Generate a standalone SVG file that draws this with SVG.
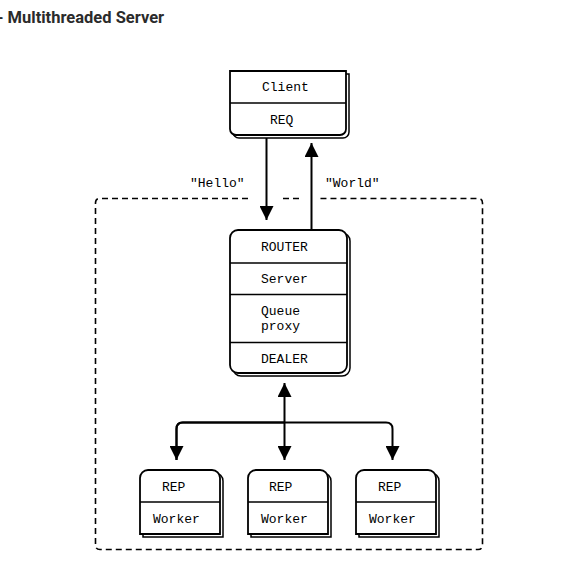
<svg xmlns="http://www.w3.org/2000/svg" width="568" height="580" viewBox="0 0 568 580">
<style>
.title{font-family:Roboto,"Liberation Sans",sans-serif;font-weight:bold;font-size:16.5px;fill:#2b2b2b}
.t{font-family:"Liberation Mono","DejaVu Sans Mono",monospace;font-size:13px;fill:#000}
.box{fill:#fff;stroke:#000;stroke-width:1.8}
.sh{fill:#fff;stroke:#000;stroke-width:1.5}
.div{stroke:#000;stroke-width:1.5;fill:none}
.con{stroke:#000;stroke-width:2;fill:none}
.dash{stroke:#000;stroke-width:1.6;fill:none;stroke-dasharray:6 4}
</style>
<defs>
<marker id="ah" markerUnits="userSpaceOnUse" markerWidth="14" markerHeight="14" refX="14" refY="7" orient="auto">
<path d="M0,0 L14,7 L0,14 Z" fill="#000"/>
</marker>
</defs>
<rect width="568" height="580" fill="#fff"/>
<text class="title" x="-3" y="23">- Multithreaded Server</text>

<g id="boundary">
<path class="dash" d="M248,198.5 H100 Q95.5,198.5 95.5,203 V545 Q95.5,549.5 100,549.5 H478 Q482.5,549.5 482.5,545 V203 Q482.5,198.5 478,198.5 H320"/>
<path class="dash" d="M283,198.5 H300"/>
</g>

<g id="connectors">
<line class="con" x1="266.5" y1="136" x2="266.5" y2="220" marker-end="url(#ah)"/>
<line class="con" x1="311.5" y1="229" x2="311.5" y2="143" marker-end="url(#ah)"/>
<line class="con" x1="284.5" y1="422.5" x2="284.5" y2="383" marker-end="url(#ah)"/>
<line class="con" x1="284.5" y1="422.5" x2="284.5" y2="460" marker-end="url(#ah)"/>
<path class="con" d="M176.5,460 V429 Q176.5,422.5 183,422.5 H386 Q392.5,422.5 392.5,429 V460" marker-end="url(#ah)"/>
<path class="con" d="M284.5,422.5 H182 Q176.5,422.5 176.5,429 V460" marker-end="url(#ah)"/>
<text class="t" x="190" y="187">"Hello"</text>
<text class="t" x="325" y="187">"World"</text>
</g>

<g id="client">
<path class="sh" d="M233,74 H349 V132 A6,6 0 0 1 343,138 H239 A6,6 0 0 1 233,132 Z"/>
<path class="box" d="M230,71 H346 V129 A6,6 0 0 1 340,135 H236 A6,6 0 0 1 230,129 Z"/>
<line class="div" x1="230" y1="103" x2="346" y2="103"/>
<text class="t" x="262" y="91">Client</text>
<text class="t" x="270" y="124">REQ</text>
</g>

<g id="server">
<rect class="sh" x="233" y="233" width="117" height="143" rx="8"/>
<rect class="box" x="230" y="230" width="117" height="143" rx="8"/>
<line class="div" x1="230" y1="263" x2="347" y2="263"/>
<line class="div" x1="230" y1="294.5" x2="347" y2="294.5"/>
<line class="div" x1="230" y1="342.5" x2="347" y2="342.5"/>
<text class="t" x="261" y="251">ROUTER</text>
<text class="t" x="261" y="283">Server</text>
<text class="t" x="261" y="315">Queue</text>
<text class="t" x="261" y="330">proxy</text>
<text class="t" x="261" y="363">DEALER</text>
</g>

<g id="worker1">
<path class="sh" d="M143,537 V481 A8,8 0 0 1 151,473 H215 A8,8 0 0 1 223,481 V537 Z"/>
<path class="box" d="M140,534 V478 A8,8 0 0 1 148,470 H212 A8,8 0 0 1 220,478 V534 Z"/>
<line class="div" x1="140" y1="502" x2="220" y2="502"/>
<text class="t" x="162" y="491">REP</text>
<text class="t" x="153" y="523">Worker</text>
</g>

<g id="worker2">
<path class="sh" d="M251,537 V481 A8,8 0 0 1 259,473 H323 A8,8 0 0 1 331,481 V537 Z"/>
<path class="box" d="M248,534 V478 A8,8 0 0 1 256,470 H320 A8,8 0 0 1 328,478 V534 Z"/>
<line class="div" x1="248" y1="502" x2="328" y2="502"/>
<text class="t" x="269" y="491">REP</text>
<text class="t" x="261" y="523">Worker</text>
</g>

<g id="worker3">
<path class="sh" d="M359,537 V481 A8,8 0 0 1 367,473 H431 A8,8 0 0 1 439,481 V537 Z"/>
<path class="box" d="M356,534 V478 A8,8 0 0 1 364,470 H428 A8,8 0 0 1 436,478 V534 Z"/>
<line class="div" x1="356" y1="502" x2="436" y2="502"/>
<text class="t" x="378" y="491">REP</text>
<text class="t" x="369" y="523">Worker</text>
</g>
</svg>
